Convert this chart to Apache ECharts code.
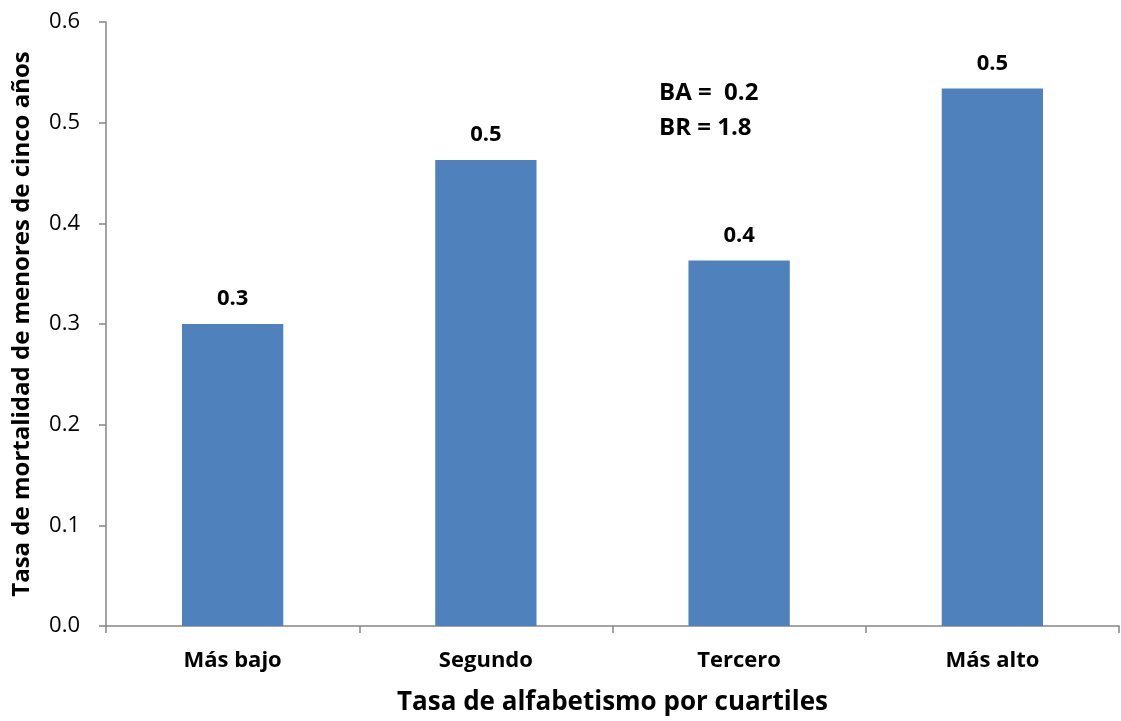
<!DOCTYPE html>
<html>
<head>
<meta charset="utf-8">
<script src="https://cdn.jsdelivr.net/npm/echarts@6/dist/echarts.min.js"></script>
<style>
  html, body { margin: 0; padding: 0; background: #fff; }
  #chart { width: 1121px; height: 721px; }
</style>
</head>
<body>
<div id="chart"></div>
<script>
const categories = ['Más bajo', 'Segundo', 'Tercero', 'Más alto'];
const mortality = [0.300, 0.463, 0.363, 0.534];
const yTicks = [0, 0.1, 0.2, 0.3, 0.4, 0.5, 0.6];
const notes = ['BA =  0.2', 'BR = 1.8'];

const FONT = '"Open Sans", "Liberation Sans", sans-serif';
const AXIS_GRAY = '#868686';

const chart = echarts.init(document.getElementById('chart'), null, { renderer: 'canvas' });

chart.setOption({
  animation: false,
  backgroundColor: '#ffffff',
  grid: { left: 106, right: 2, top: 22, bottom: 95, containLabel: false },
  xAxis: {
    type: 'category',
    data: categories,
    name: 'Tasa de alfabetismo por cuartiles',
    nameLocation: 'middle',
    nameGap: 64,
    nameTextStyle: { fontFamily: FONT, fontWeight: 'bold', fontSize: 26, color: '#000' },
    axisLine: { lineStyle: { color: AXIS_GRAY, width: 1.5 } },
    axisTick: { show: true, alignWithLabel: false, length: 7, lineStyle: { color: AXIS_GRAY, width: 1.5 } },
    axisLabel: { fontFamily: FONT, fontWeight: 'bold', fontSize: 22, color: '#000', margin: 24 }
  },
  yAxis: {
    type: 'value',
    min: yTicks[0],
    max: yTicks[yTicks.length - 1],
    interval: 0.1,
    name: 'Tasa de mortalidad de menores de cinco años',
    nameLocation: 'middle',
    nameGap: 72,
    nameTextStyle: { fontFamily: FONT, fontWeight: 'bold', fontSize: 24, color: '#000' },
    axisLine: { show: true, lineStyle: { color: AXIS_GRAY, width: 1.5 } },
    axisTick: { show: true, length: 7, lineStyle: { color: AXIS_GRAY, width: 1.5 } },
    splitLine: { show: false },
    axisLabel: {
      fontFamily: FONT, fontSize: 22, color: '#000', margin: 26,
      formatter: v => v.toFixed(1)
    }
  },
  series: [{
    type: 'bar',
    data: mortality,
    barWidth: '40%',
    itemStyle: { color: '#4F81BD' },
    label: {
      show: true,
      position: 'top',
      distance: 14,
      fontFamily: FONT,
      fontWeight: 'bold',
      fontSize: 22,
      color: '#000',
      formatter: p => p.value.toFixed(1)
    }
  }],
  graphic: [{
    type: 'text',
    left: 659,
    top: 76,
    style: {
      text: notes.join('\n'),
      font: 'bold 24px ' + FONT,
      lineHeight: 35,
      fill: '#000'
    }
  }]
});
</script>
</body>
</html>
